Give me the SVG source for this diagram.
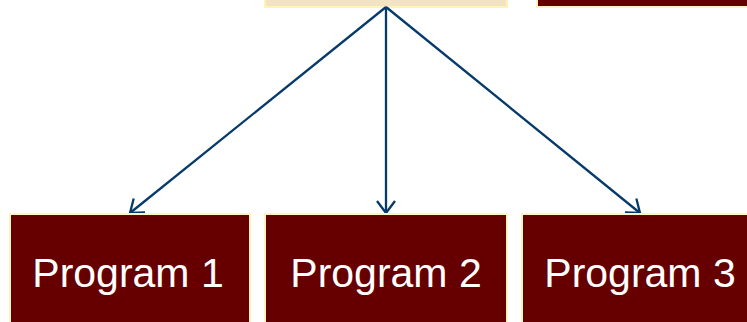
<svg xmlns="http://www.w3.org/2000/svg" width="747" height="322" viewBox="0 0 747 322">
<style>
.box{fill:#660000;stroke:#FFF5C0;stroke-width:2}
.top{fill:#F2E3C4;stroke:#FFF5B0;stroke-width:2}
.lbl{font-family:"Liberation Sans",Arial,sans-serif;font-size:41px;fill:#FFFFFF;text-anchor:middle}
.conn{stroke:#063A6B;stroke-width:2.3;fill:none}
</style>
<defs>
<marker id="ah" markerWidth="24" markerHeight="24" refX="13" refY="12" orient="auto" markerUnits="userSpaceOnUse">
<path d="M1,3 L13,12 L1,21" fill="none" stroke="#063A6B" stroke-width="2.3"/>
</marker>
</defs>
<g id="root"><rect class="top" x="265" y="-20" width="242" height="27"/></g>
<g id="other"><rect class="box" x="537" y="-20" width="240" height="27"/></g>
<g id="connectors">
<line class="conn" x1="386" y1="7" x2="130" y2="213" marker-end="url(#ah)"/>
<line class="conn" x1="386" y1="7" x2="386" y2="213" marker-end="url(#ah)"/>
<line class="conn" x1="386" y1="7" x2="640" y2="213" marker-end="url(#ah)"/>
</g>
<g id="p1"><rect class="box" x="10" y="214" width="240" height="120"/><text class="lbl" x="128" y="287">Program 1</text></g>
<g id="p2"><rect class="box" x="265" y="214" width="242" height="120"/><text class="lbl" x="386" y="287">Program 2</text></g>
<g id="p3"><rect class="box" x="522" y="214" width="240" height="120"/><text class="lbl" x="640" y="287">Program 3</text></g>
</svg>
